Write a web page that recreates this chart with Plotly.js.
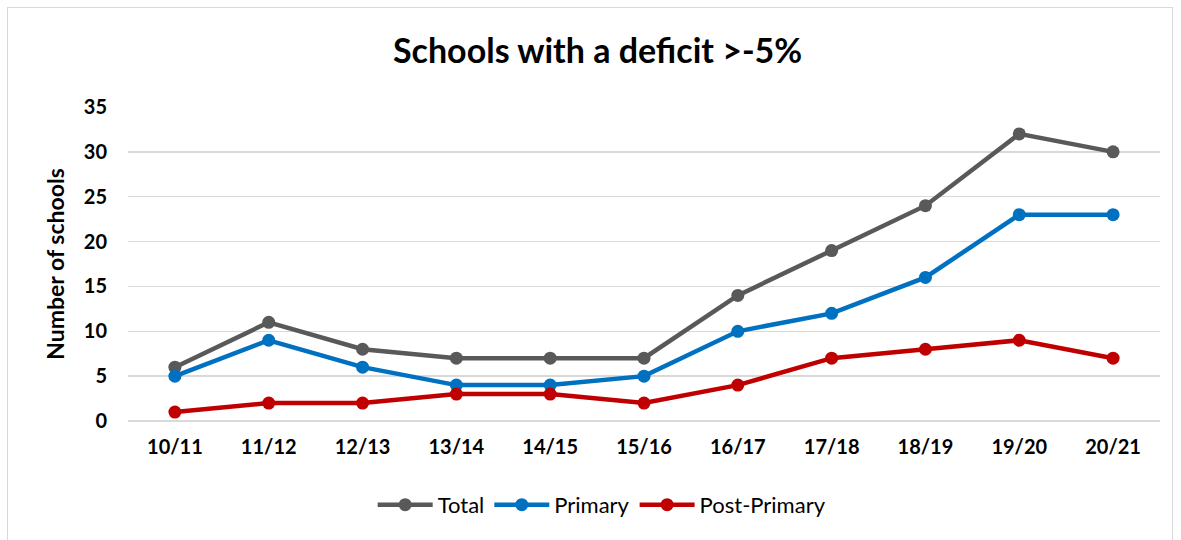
<!DOCTYPE html>
<html>
<head>
<meta charset="utf-8">
<script src="https://cdn.plot.ly/plotly-3.0.1.min.js"></script>
<style>
body{margin:0;padding:0;background:#fff;}
#frame{position:absolute;left:7px;top:7px;width:1166px;height:540px;border:1px solid #d9d9d9;box-sizing:border-box;}
#chart{position:absolute;left:0;top:0;width:1181px;height:540px;}
</style>
</head>
<body>
<div id="frame"></div>
<div id="chart"></div>
<script>
const years = ["10/11","11/12","12/13","13/14","14/15","15/16","16/17","17/18","18/19","19/20","20/21"];
const total = [6,11,8,7,7,7,14,19,24,32,30];
const primary = [5,9,6,4,4,5,10,12,16,23,23];
const postPrimary = [1,2,2,3,3,2,4,7,8,9,7];

const mk = (name, y, color) => ({
  x: years, y: y, name: name, type: 'scatter', mode: 'lines+markers',
  line: {color: color, width: 4.5},
  marker: {color: color, size: 13}
});

const data = [
  mk('Total', total, '#595959'),
  mk('Primary', primary, '#0070c0'),
  mk('Post-Primary', postPrimary, '#c00000')
];

const layout = {
  width: 1181, height: 540,
  paper_bgcolor: 'rgba(0,0,0,0)', plot_bgcolor: 'rgba(0,0,0,0)',
  margin: {l: 128, r: 21, t: 107, b: 119},
  font: {family: 'Lato, "Open Sans", sans-serif', color: '#000'},
  title: {text: '<b>Schools with a deficit >-5%</b>', font: {size: 34, color: '#000'}, x: 0.506, xanchor: 'center', y: 0.905, yanchor: 'middle'},
  xaxis: {
    type: 'category', range: [-0.5, 10.5],
    showgrid: false, zeroline: false, showline: false,
    tickfont: {size: 20, color: '#000', weight: 'bold'},
    ticks: '', ticklabelstandoff: 12
  },
  yaxis: {
    range: [0, 35], dtick: 5, tick0: 0,
    showgrid: true, gridcolor: '#d9d9d9', gridwidth: 1.5,
    zeroline: true, zerolinecolor: '#d9d9d9', zerolinewidth: 1.5,
    showline: false, ticks: '',
    tickfont: {size: 20, color: '#000', weight: 'bold'},
    ticklabelstandoff: 20,
    title: {text: '<b>Number of schools</b>', font: {size: 23, color: '#000'}, standoff: 12}
  },
  showlegend: true,
  legend: {
    orientation: 'h', x: 0.459, xanchor: 'center', y: -0.267, yanchor: 'middle',
    font: {size: 22, color: '#000'}, itemwidth: 55, traceorder: 'normal'
  }
};

Plotly.newPlot('chart', data, layout, {displayModeBar: false, staticPlot: true});
</script>
</body>
</html>
